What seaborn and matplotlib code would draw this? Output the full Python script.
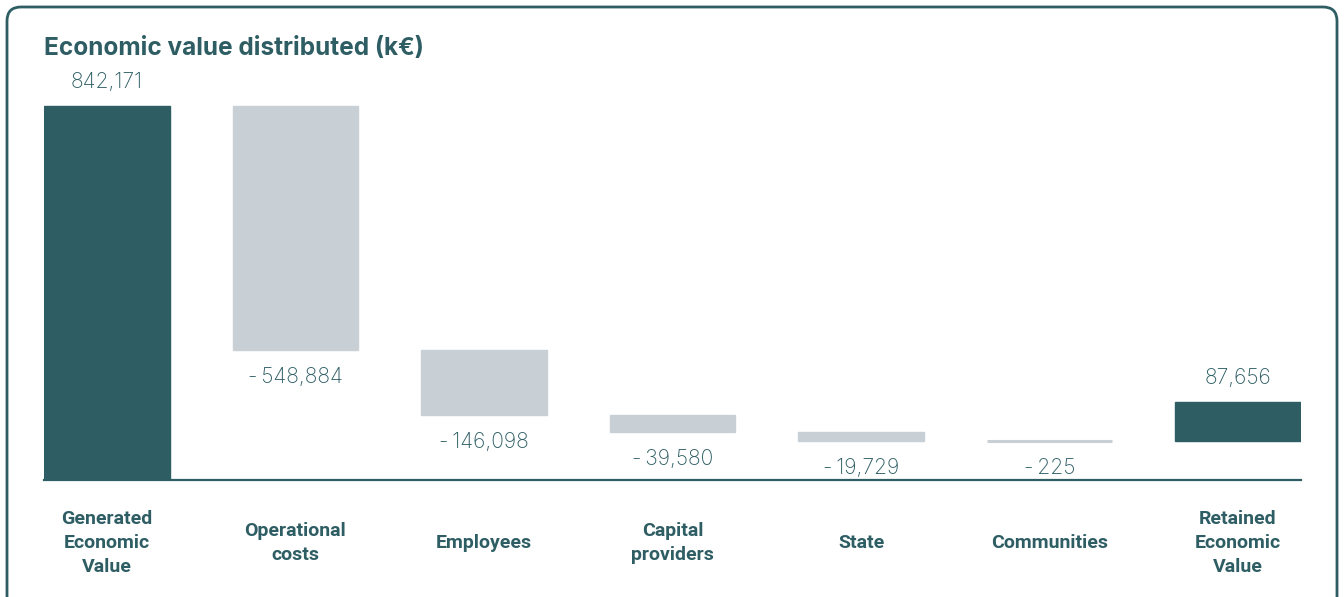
import numpy as np
import pandas as pd
import matplotlib
matplotlib.use("Agg")
import matplotlib.pyplot as plt
import matplotlib.patches as mpatches
import seaborn as sns

# -----------------------------
# DATA
# -----------------------------
categories = ["Generated\nEconomic\nValue", "Operational\ncosts", "Employees",
              "Capital\nproviders", "State", "Communities",
              "Retained\nEconomic\nValue"]
values = [842171, -548884, -146098, -39580, -19729, -225, 87656]
kinds = ["total", "delta", "delta", "delta", "delta", "delta", "total"]

teal = "#2e5e64"
grey = "#c8d0d6"

sns.set_theme(style="white")
plt.rcParams["font.family"] = ["Inter", "DejaVu Sans"]

# waterfall bottoms: each bar starts where the running total ends
bottoms = []
heights = []
running = 0
for v, k in zip(values, kinds):
    if v >= 0:
        bottoms.append(running)
        heights.append(v)
        if running == 0:
            running += v
    else:
        running += v
        bottoms.append(running)
        heights.append(-v)

df = pd.DataFrame({"cat": categories, "height": heights, "bottom": bottoms,
                   "value": values})
colors = [teal if k == "total" else grey for k in kinds]

fig = plt.figure(figsize=(13.44, 5.97), dpi=100)
W, H = 1344, 597
ax = fig.add_axes([44 / W, 117 / H, 1257 / W, 420 / H])

sns.barplot(data=df, x="cat", y="height", hue="cat", palette=colors,
            legend=False, width=0.668, ax=ax, saturation=1,
            linewidth=0)

# shift bars to their waterfall position
ymax = 842171 * 420 / 374
for patch, b, c in zip(ax.patches, bottoms, colors):
    patch.set_y(b)
    patch.set_edgecolor(c)
    patch.set_linewidth(1.0)
    # keep very small bars visible as a thin line
    if patch.get_height() < ymax * 0.005:
        patch.set_linewidth(2.2)

ax.set_ylim(0, ymax)
ax.set_xlim(-0.334, 6.334)
ax.set_xlabel("")
ax.set_ylabel("")
ax.set_yticks([])
ax.set_xticks([])
for s in ["top", "right", "left"]:
    ax.spines[s].set_visible(False)
ax.spines["bottom"].set_color(teal)
ax.spines["bottom"].set_linewidth(1.6)

# value labels
for i, (v, b, h) in enumerate(zip(values, bottoms, heights)):
    if v >= 0:
        ax.annotate(f"{v:,}", xy=(i, b + h), xytext=(0, 24),
                    textcoords="offset pixels", ha="center", va="center",
                    fontsize=15.2, fontweight="light", color=teal)
    else:
        ax.annotate(f"-\u2009{-v:,}", xy=(i, b), xytext=(0, -27),
                    textcoords="offset pixels", ha="center", va="center",
                    fontsize=15.2, fontweight="light", color=teal)

# category labels under the baseline
for i, c in enumerate(categories):
    ax.annotate(c, xy=(i, 0), xycoords=("data", "axes fraction"),
                xytext=(0, -63), textcoords="offset pixels",
                ha="center", va="center", fontsize=14, fontweight="bold",
                color=teal, linespacing=1.45, family=["Roboto", "DejaVu Sans"])

fig.text(44 / W, 1 - 49 / H, "Economic value distributed (k€)",
         ha="left", va="center", fontsize=17.6, fontweight="bold", color=teal)

# rounded card frame
frame = mpatches.FancyBboxPatch((7, -40), 1330, 630,
                                boxstyle="round,pad=0,rounding_size=14",
                                transform=None, facecolor="none",
                                edgecolor=teal, linewidth=2)
fig.add_artist(frame)

fig.savefig("out.png", dpi=100, facecolor="white")
